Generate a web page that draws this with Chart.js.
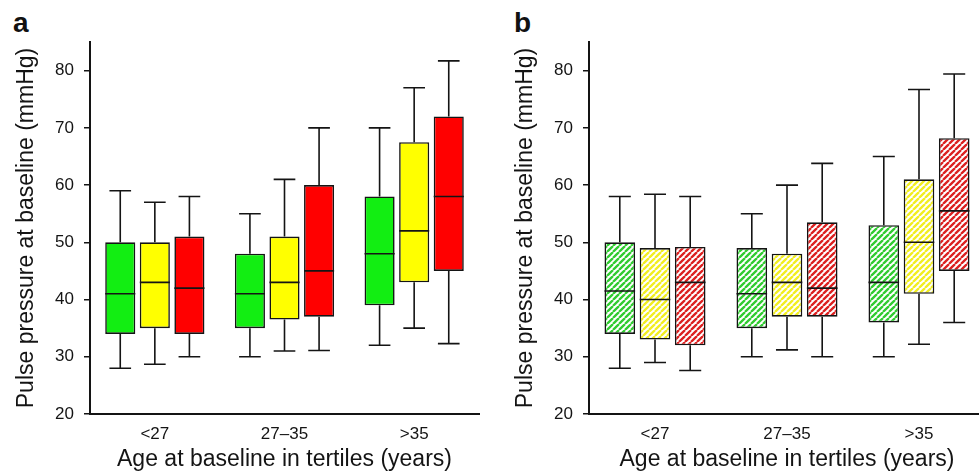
<!DOCTYPE html>
<html lang="en">
<head>
    <meta charset="UTF-8">
    <title>Pulse pressure at baseline by age tertile</title>
    <script src="https://cdn.jsdelivr.net/npm/chart.js@4.4.0/dist/chart.umd.min.js"></script>
    <style>
        html, body {
            margin: 0;
            padding: 0;
            width: 979px;
            height: 475px;
            overflow: hidden;
            background: #fff;
            font-family: "Liberation Sans", Arial, sans-serif;
        }
        .panel {
            position: absolute;
            top: 0;
        }
        .letter {
            position: absolute;
            top: 9px;
            font-size: 28px;
            line-height: 28px;
            font-weight: bold;
            color: #111;
        }
    </style>
</head>
<body>
    <div class="letter" style="left: 13px;">a</div>
    <div class="letter" style="left: 514px;">b</div>
    <canvas id="chartA" class="panel" style="left: 0;" width="490" height="475"></canvas>
    <canvas id="chartB" class="panel" style="left: 499px;" width="497" height="475"></canvas>

    <script>
        const categories = ['<27', '27–35', '>35'];

        // each entry: [lower whisker, Q1, median, Q3, upper whisker], one per age tertile
        const aGreen  = [[28, 34, 41, 50, 59], [30, 35, 41, 48, 55], [32, 39, 48, 58, 70]];
        const aYellow = [[28.7, 35, 43, 50, 57], [31, 36.5, 43, 51, 61], [35, 43, 52, 67.5, 77]];
        const aRed    = [[30, 34, 42, 51, 58], [31.1, 37, 45, 60, 70], [32.3, 45, 58, 72, 81.7]];

        const bGreen  = [[28, 34, 41.5, 50, 58], [30, 35, 41, 49, 55], [30, 36, 43, 53, 65]];
        const bYellow = [[29, 33, 40, 49, 58.4], [31.2, 37, 43, 48, 60], [32.2, 41, 50, 61, 76.7]];
        const bRed    = [[27.6, 32, 43, 49.2, 58], [30, 37, 42, 53.5, 63.8], [36, 45, 55.5, 68.2, 79.4]];

        const yTitle = 'Pulse pressure at baseline (mmHg)';
        const xTitle = 'Age at baseline in tertiles (years)';
        const ink = '#141414';

        // diagonal stripe fill for panel b
        function hatch(color) {
            const c = document.createElement('canvas');
            c.width = c.height = 6;
            const g = c.getContext('2d');
            g.fillStyle = '#fff';
            g.fillRect(0, 0, 6, 6);
            g.strokeStyle = color;
            g.lineWidth = 2.3;
            g.beginPath();
            for (const o of [-6, 0, 6]) {
                g.moveTo(o, 6);
                g.lineTo(o + 6, 0);
            }
            g.stroke();
            return g.createPattern(c, 'repeat');
        }

        // whiskers, caps and medians, placed with the chart's own scales
        const whiskers = {
            id: 'whiskers',
            afterDatasetsDraw(chart) {
                const ctx = chart.ctx;
                const y = chart.scales.y;
                ctx.save();
                ctx.strokeStyle = ink;
                ctx.lineWidth = 1.6;
                chart.data.datasets.forEach((ds, i) => {
                    chart.getDatasetMeta(i).data.forEach((bar, j) => {
                        const s = ds.stats[j];
                        const half = bar.width / 2;
                        const cap = bar.width * 0.36;
                        ctx.beginPath();
                        ctx.moveTo(bar.x, y.getPixelForValue(s[3]));
                        ctx.lineTo(bar.x, y.getPixelForValue(s[4]));
                        ctx.moveTo(bar.x - cap, y.getPixelForValue(s[4]));
                        ctx.lineTo(bar.x + cap, y.getPixelForValue(s[4]));
                        ctx.moveTo(bar.x, y.getPixelForValue(s[1]));
                        ctx.lineTo(bar.x, y.getPixelForValue(s[0]));
                        ctx.moveTo(bar.x - cap, y.getPixelForValue(s[0]));
                        ctx.lineTo(bar.x + cap, y.getPixelForValue(s[0]));
                        ctx.moveTo(bar.x - half, y.getPixelForValue(s[2]));
                        ctx.lineTo(bar.x + half, y.getPixelForValue(s[2]));
                        ctx.stroke();
                    });
                });
                ctx.restore();
            }
        };

        function boxChart(id, series) {
            new Chart(document.getElementById(id), {
                type: 'bar',
                data: {
                    labels: categories,
                    datasets: series.map(s => ({
                        stats: s.stats,
                        data: s.stats.map(v => [v[1], v[3]]),
                        backgroundColor: s.fill,
                        borderColor: ink,
                        borderWidth: 1.6,
                        borderSkipped: false,
                        barPercentage: 0.87,
                        categoryPercentage: 0.8
                    }))
                },
                options: {
                    responsive: false,
                    animation: false,
                    devicePixelRatio: 1,
                    layout: { padding: { top: 42, right: 11, left: 0, bottom: 0 } },
                    plugins: { legend: { display: false }, tooltip: { enabled: false } },
                    scales: {
                        x: {
                            grid: { display: false },
                            border: { display: true, color: ink, width: 2 },
                            ticks: { color: ink, padding: 2, font: { family: 'Liberation Sans', size: 17 } },
                            title: {
                                display: true, text: xTitle, color: ink,
                                font: { family: 'Liberation Sans', size: 23 },
                                padding: { top: 0, bottom: 2 }
                            },
                            afterFit(scale) { scale.height = 61; }
                        },
                        y: {
                            min: 20,
                            max: 85,
                            ticks: {
                                stepSize: 10, includeBounds: false, color: ink, padding: 10,
                                font: { family: 'Liberation Sans', size: 17 }
                            },
                            grid: { drawOnChartArea: false, drawTicks: true, tickLength: 6, color: ink, lineWidth: 1.5 },
                            border: { display: true, color: ink, width: 2 },
                            title: {
                                display: true, text: yTitle, color: ink,
                                font: { family: 'Liberation Sans', size: 23 },
                                padding: { top: 13, bottom: 0 }
                            },
                            afterFit(scale) { scale.width = 90; }
                        }
                    }
                },
                plugins: [whiskers]
            });
        }

        boxChart('chartA', [
            { stats: aGreen, fill: '#12ee12' },
            { stats: aYellow, fill: '#ffff00' },
            { stats: aRed, fill: '#ff0000' }
        ]);

        boxChart('chartB', [
            { stats: bGreen, fill: hatch('#30cc30') },
            { stats: bYellow, fill: hatch('#f2ee20') },
            { stats: bRed, fill: hatch('#dc2020') }
        ]);
    </script>
</body>
</html>
